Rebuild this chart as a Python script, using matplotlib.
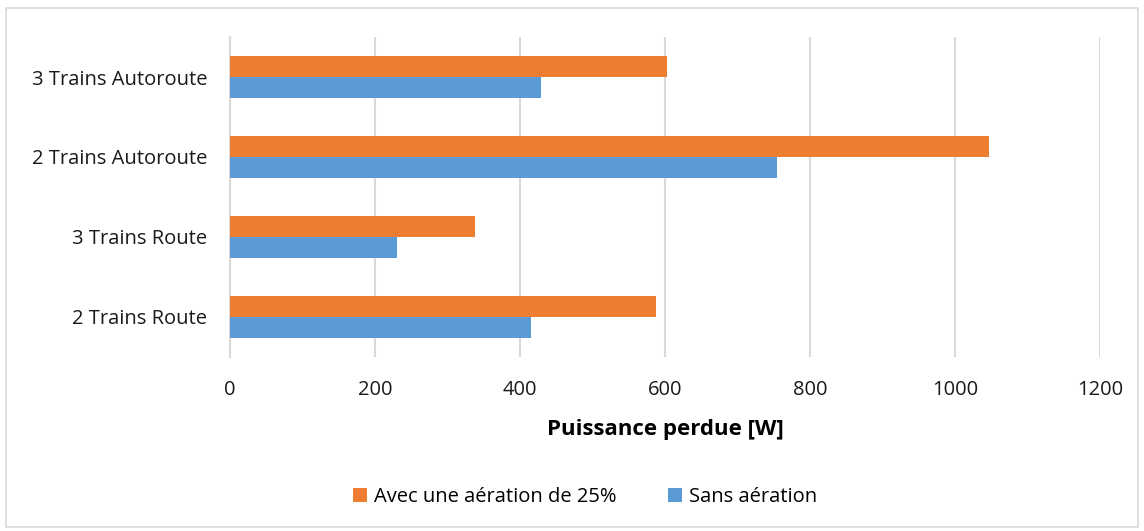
import matplotlib
matplotlib.use("Agg")
import matplotlib.pyplot as plt
from matplotlib.patches import Rectangle
import numpy as np

categories = ["2 Trains Route", "3 Trains Route", "2 Trains Autoroute", "3 Trains Autoroute"]
sans_aeration = [415, 230, 755, 429]
avec_aeration = [588, 338, 1047, 603]
series_labels = ["Avec une aération de 25%", "Sans aération"]
xticks = [0, 200, 400, 600, 800, 1000, 1200]

plt.rcParams['font.family'] = ['Open Sans', 'DejaVu Sans']

fig = plt.figure(figsize=(11.44, 5.31), dpi=100)
ax = fig.add_axes([230/1144, 1-357/531, 870/1144, 320/531])

y = np.arange(len(categories))
h = 0.2625
orange = "#ED7D31"
blue = "#5B9BD5"
b1 = ax.barh(y + h/2, avec_aeration, height=h, color=orange, label=series_labels[0], zorder=3)
b2 = ax.barh(y - h/2, sans_aeration, height=h, color=blue, label=series_labels[1], zorder=3)

fs = 14.5
ax.set_xlim(0, 1200)
ax.set_ylim(-0.5, 3.5)
ax.set_xticks(xticks)
ax.set_xticklabels([str(t) for t in xticks], fontsize=fs, color="#1a1a1a")
ax.set_yticks(y)
ax.set_yticklabels(categories, fontsize=fs, color="#1a1a1a")
ax.tick_params(axis='both', length=0)
ax.tick_params(axis='x', pad=16.5)
ax.tick_params(axis='y', pad=16.5)
ax.grid(axis='x', color="#d9d9d9", linewidth=1.5, zorder=0)
for s in ["top", "right", "bottom"]:
    ax.spines[s].set_visible(False)
ax.spines["left"].set_color("#d9d9d9")
ax.spines["left"].set_linewidth(1.5)
ax.set_xlabel("Puissance perdue [W]", fontsize=16, fontweight="bold", color="#000000", labelpad=14)

fig.legend(handles=[b1, b2], labels=series_labels, loc="center", bbox_to_anchor=(585/1144, 1-497/531),
           ncol=2, frameon=False, fontsize=fs, handlelength=0.7, handleheight=0.7,
           handletextpad=0.3, columnspacing=2.6)

fig.patches.append(Rectangle((6/1144, 4/531), 1132/1144, 519/531, transform=fig.transFigure,
                             fill=False, edgecolor="#d9d9d9", linewidth=1.2))

fig.savefig("out.png", dpi=100, facecolor="white")
